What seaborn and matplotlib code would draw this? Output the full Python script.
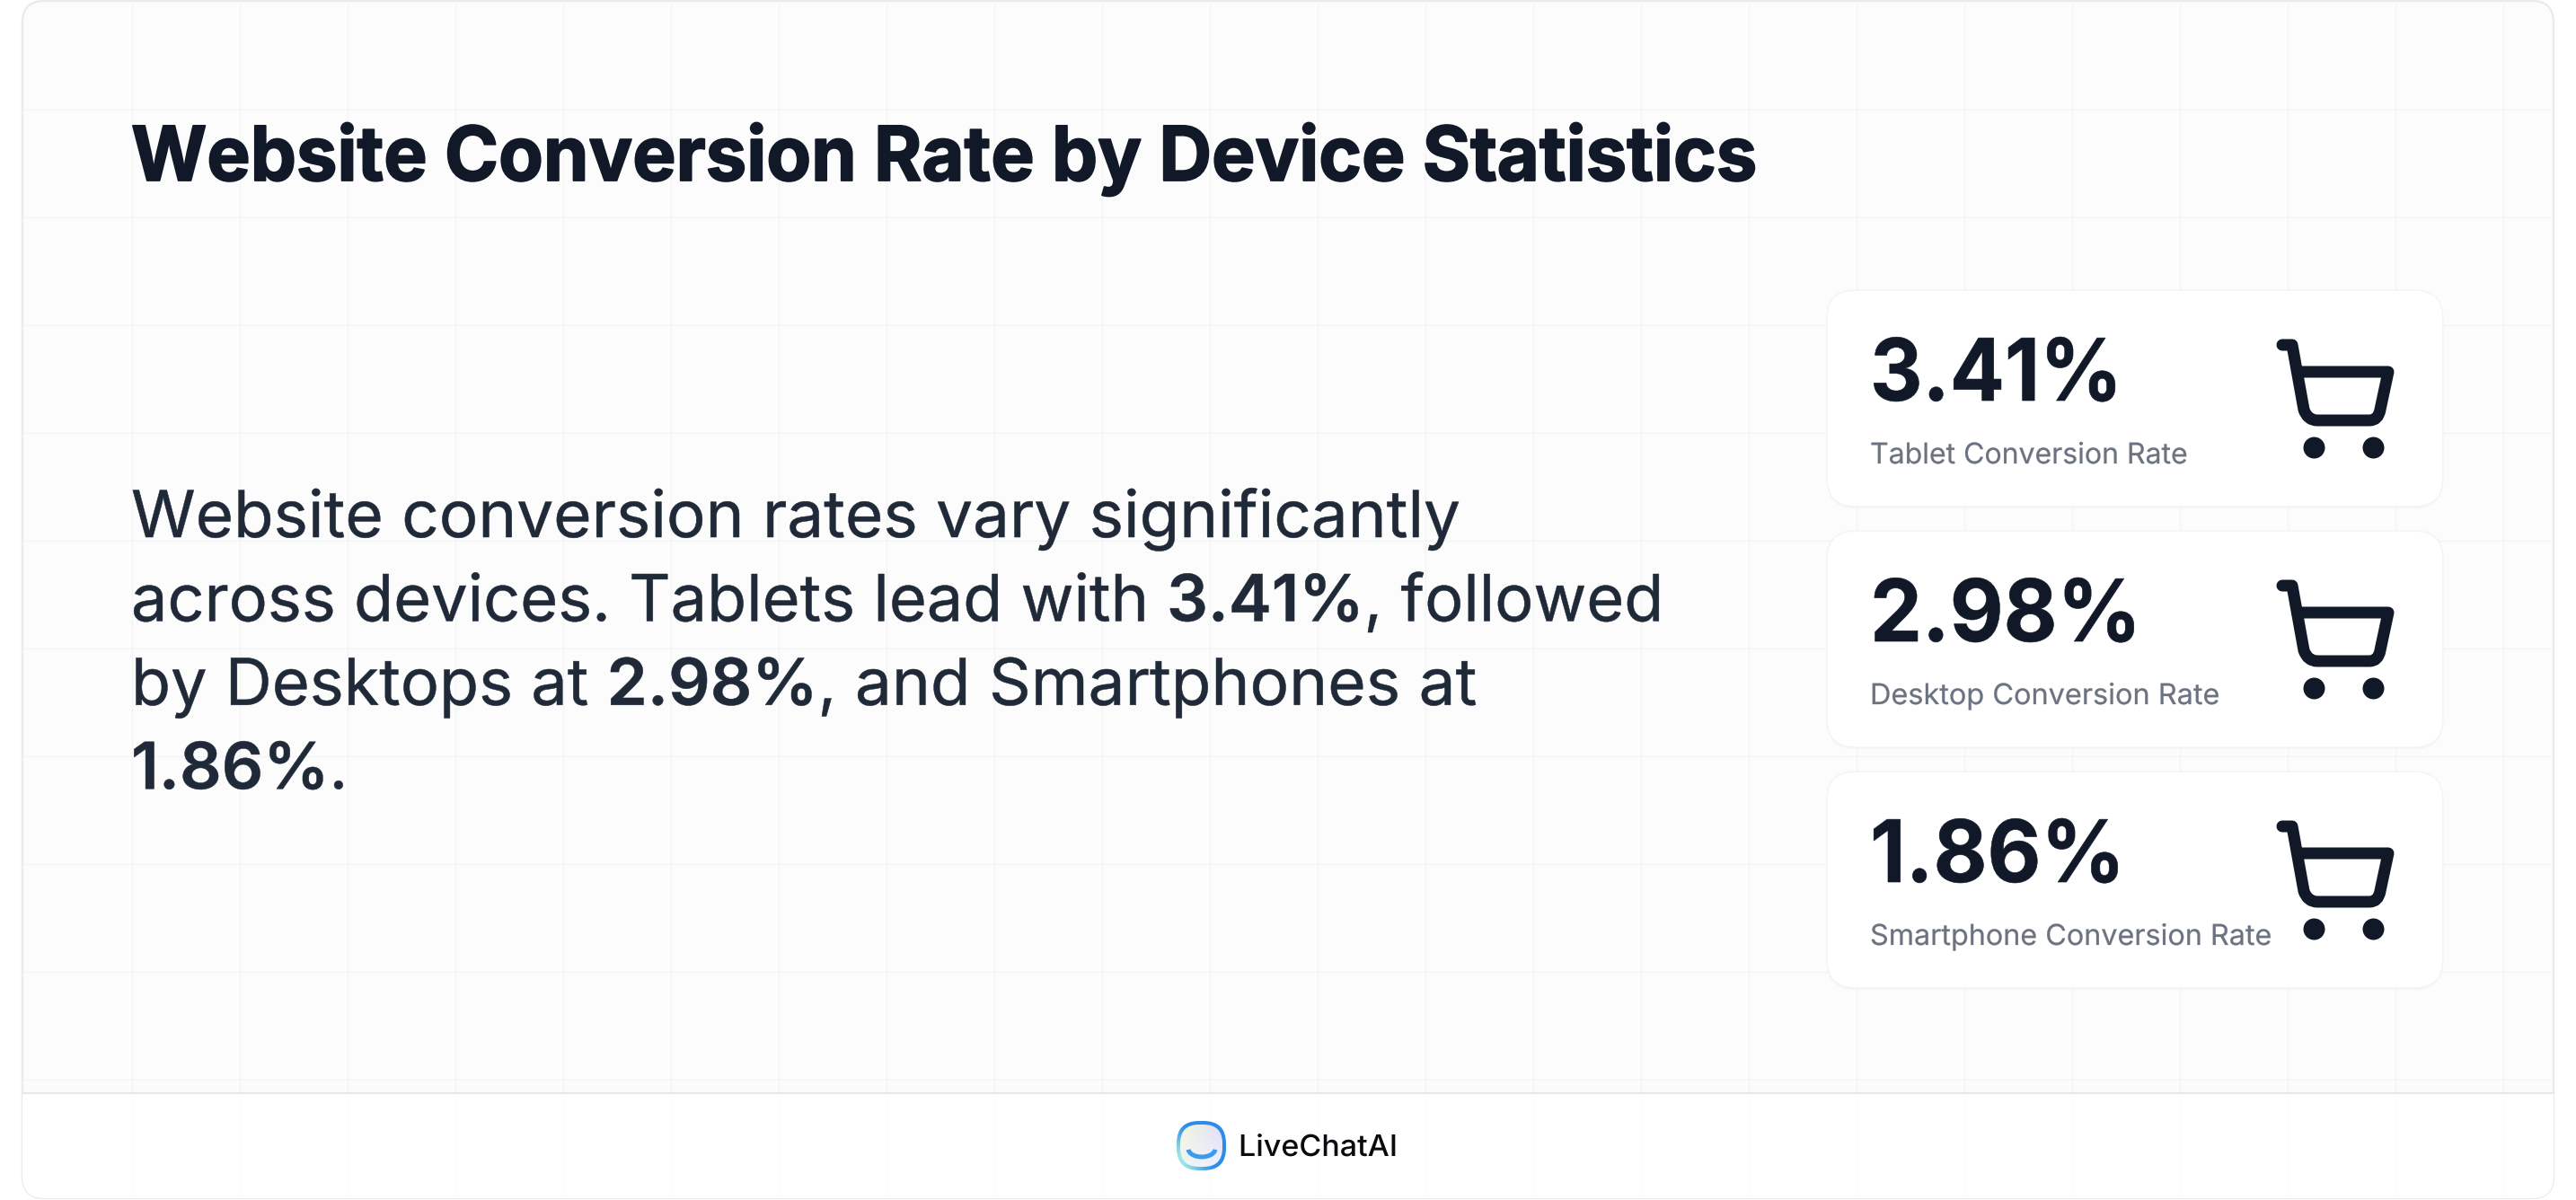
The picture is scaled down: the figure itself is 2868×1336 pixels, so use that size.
import numpy as np
import pandas as pd
import matplotlib
matplotlib.use("Agg")
import matplotlib.pyplot as plt
from matplotlib.patches import FancyBboxPatch, Rectangle, PathPatch
from matplotlib.path import Path
from matplotlib.patheffects import AbstractPathEffect
from matplotlib.transforms import Affine2D
import seaborn as sns

TITLE = "Website Conversion Rate by Device Statistics"
RATES = [3.41, 2.98, 1.86]
RATE_LABELS = ["Tablet Conversion Rate", "Desktop Conversion Rate", "Smartphone Conversion Rate"]
BODY_LINES = [
    [("Website conversion rates vary significantly", False)],
    [("across devices. Tablets lead with ", False), ("3.41%", True), (", followed", False)],
    [("by Desktops at ", False), ("2.98%", True), (", and Smartphones at", False)],
    [("1.86%", True), (".", False)],
]
BRAND = "LiveChatAI"

W, H = 2868, 1336
DPI = 100
INK = "#111827"
BODY = "#1F2937"
MUTED = "#6B7280"
FONT = "Inter"


def pt(px):
    return px * 72 / DPI


class Fit(AbstractPathEffect):
    """Draw text outlines squeezed horizontally, as CSS tracking would, with an optional thin stroke."""

    def __init__(self, sx=1.0, stroke=0.0):
        super().__init__()
        self.sx, self.stroke = sx, stroke

    def draw_path(self, renderer, gc, tpath, affine, rgbFace=None):
        a = Affine2D().scale(self.sx, 1) + affine
        gc0 = renderer.new_gc()
        gc0.copy_properties(gc)
        if self.stroke > 0:
            gc0.set_linewidth(pt(self.stroke))
            gc0.set_foreground(rgbFace)
            gc0.set_joinstyle("round")
        renderer.draw_path(gc0, tpath, a, rgbFace)
        gc0.restore()


sns.set_theme(style="white", rc={"axes.facecolor": "white", "figure.facecolor": "white"})
plt.rcParams["font.family"] = [FONT, "DejaVu Sans"]
plt.rcParams["text.hinting"] = "none"

fig = plt.figure(figsize=(W / DPI, H / DPI), dpi=DPI)
ax = fig.add_axes([0, 0, 1, 1])
ax.set_xlim(0, W)
ax.set_ylim(H, 0)
ax.axis("off")
fig.canvas.draw()
rend = fig.canvas.get_renderer()


def put(x, y, s, size, color, weight="normal", target=None, sx=1.0, stroke=0.0):
    t = ax.text(x, y, s, fontsize=pt(size), fontweight=weight, color=color, va="baseline", ha="left", zorder=5)
    w, _, _ = rend.get_text_width_height_descent(s, t.get_fontproperties(), False)
    if target:
        sx = target / w
    t.set_path_effects([Fit(sx, stroke)])
    return w * sx


# panel
L, T, R, B = 25, 1, 2843, 1334
panel = FancyBboxPatch((L, T), R - L, B - T, boxstyle="round,pad=0,rounding_size=24",
                       fc="#FCFCFC", ec="#E9E9EE", lw=1.6, zorder=1)
ax.add_patch(panel)
foot = Rectangle((L, 1217), R - L, B - 1217, fc="white", ec="none", zorder=1.1)
ax.add_patch(foot)
foot.set_clip_path(panel)
ax.plot([L, R], [1217, 1217], color="#E8E8EC", lw=1.6, zorder=3)

grid_x = np.arange(146.5, R, 120)
grid_y = np.arange(122, 1217, 120)
ax.vlines(grid_x, T + 1, 1216, color="#F3F4F6", lw=0.9, zorder=1.5)
ax.hlines(grid_y, L + 1, R - 1, color="#F3F4F6", lw=0.9, zorder=1.5)
ax.vlines(grid_x, 1218, B - 1, color="#FDFDFD", lw=0.9, zorder=1.5)

put(146, 201, TITLE, 84, INK, weight="bold", target=1810, stroke=1.8)

# body
BODY_SX = [[1.01], [1.0, 1.0, 1.0], [1.0, 1.012, 1.012], [1.012, 1.012]]
for i, runs in enumerate(BODY_LINES):
    x = 146
    for (s, bold), sx in zip(runs, BODY_SX[i]):
        x += put(x, 598 + i * 93.4, s, 72, BODY, weight="semibold" if bold else "normal", sx=sx, stroke=0.5)

# cards
VALUE_WIDTHS = [281, 302, 284]
LABEL_SX = [1.0, 1.014, 1.01]
wheels = []
for i, (rate, label) in enumerate(zip(RATES, RATE_LABELS)):
    dy = i * 268
    x0, y0, cw, ch = 2034, 323 + dy, 686, 241
    ax.add_patch(FancyBboxPatch((x0, y0 + 2), cw, ch, boxstyle="round,pad=0,rounding_size=32",
                                fc="#F4F4F5", ec="none", zorder=2))
    ax.add_patch(FancyBboxPatch((x0, y0), cw, ch, boxstyle="round,pad=0,rounding_size=32",
                                fc="white", ec="#F5F5F6", lw=1.2, zorder=2.1))
    put(2082, 446 + dy, f"{rate:.2f}%", 96, INK, weight="bold", target=VALUE_WIDTHS[i], stroke=0.6)
    put(2082, 516 + dy, label, 32, MUTED, sx=LABEL_SX[i], stroke=0.25)
    # cart icon
    verts = [(2541, 384), (2552, 384), (2565, 456), (2569, 468), (2580, 468), (2638, 468), (2648, 468),
             (2650, 456), (2659, 414), (2558, 414)]
    verts = [(x, y + dy) for x, y in verts]
    codes = [Path.MOVETO, Path.LINETO, Path.LINETO, Path.CURVE3, Path.CURVE3, Path.LINETO,
             Path.CURVE3, Path.CURVE3, Path.LINETO, Path.LINETO]
    ax.add_patch(PathPatch(Path(verts, codes), fc="none", ec=INK, lw=pt(13), capstyle="round",
                           joinstyle="round", zorder=5))
    wheels += [(2576, 498 + dy), (2642, 498 + dy)]

wheel_df = pd.DataFrame(wheels, columns=["x", "y"])
sns.scatterplot(data=wheel_df, x="x", y="y", ax=ax, s=pt(24) ** 2, color=INK, linewidth=0, zorder=5, legend=False)
ax.set_xlim(0, W)
ax.set_ylim(H, 0)

# footer logo: ring of shifting blues, pale glassy face, blue smile
lx0, ly0, ls = 1310, 1248, 55
outer = FancyBboxPatch((lx0, ly0), ls, ls, boxstyle="round,pad=0,rounding_size=25", fc="none", ec="none", zorder=4)
ax.add_patch(outer)
n = 64
gx, gy = np.meshgrid(np.linspace(-1, 1, n), np.linspace(-1, 1, n))
ang = np.arctan2(-gy, gx)  # 0 right, pi/2 top
strong = np.array([0.18, 0.55, 0.92])
pale = np.array([0.62, 0.90, 0.88])
w_pale = np.clip(np.cos(ang - np.deg2rad(215)), 0, 1)[..., None] ** 1.5
ring = strong * (1 - w_pale) + pale * w_pale
im_r = ax.imshow(ring, extent=(lx0, lx0 + ls, ly0 + ls, ly0), aspect="auto", zorder=4.05)
im_r.set_clip_path(outer)

inner = FancyBboxPatch((lx0 + 4, ly0 + 4), ls - 8, ls - 8, boxstyle="round,pad=0,rounding_size=21",
                       fc="none", ec="none", zorder=4.1)
ax.add_patch(inner)
fx, fy = np.meshgrid(np.linspace(0, 1, n), np.linspace(0, 1, n))
c_a = np.array([0.95, 0.98, 0.84])
c_b = np.array([0.88, 0.86, 0.99])
c_c = np.array([0.94, 0.95, 0.98])
mix = fx[..., None]
face = (c_a * (1 - mix) + c_b * mix) * (1 - fy[..., None]) + c_c * fy[..., None]
im = ax.imshow(face, extent=(lx0 + 4, lx0 + ls - 4, ly0 + ls - 4, ly0 + 4), aspect="auto", zorder=4.2)
im.set_clip_path(inner)
t = np.linspace(np.pi * 0.03, np.pi * 0.97, 30)
ax.plot(1338 + 15 * np.cos(t), 1279 + 9 * np.sin(t), color="#3B9BF0", lw=pt(5), solid_capstyle="butt", zorder=4.5)
put(1379, 1287, BRAND, 33, "#0B0B0F", weight="medium", target=177)
ax.set_xlim(0, W)
ax.set_ylim(H, 0)

fig.savefig("out.png", dpi=DPI, facecolor="white")
